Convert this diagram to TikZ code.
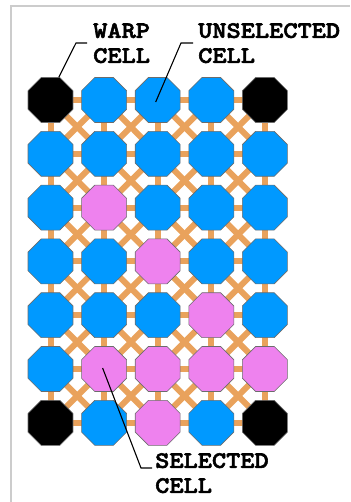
\documentclass[tikz,border=0pt]{standalone}
\usepackage{fontspec}
\newfontfamily\labfont{lmmonolt10-bold.otf}[FakeStretch=1.15, FakeBold=2.5]
\usetikzlibrary{shapes.geometric,backgrounds}
\definecolor{cellb}{RGB}{0,153,255}
\definecolor{cellp}{RGB}{238,130,238}
\definecolor{cellk}{RGB}{0,0,0}
\definecolor{linkcol}{RGB}{233,162,92}
\definecolor{framecol}{RGB}{204,204,204}
\tikzset{
  cell/.style={regular polygon, regular polygon sides=8, minimum size=48.7pt,
    inner sep=0pt, draw=gray!85!black, line width=0.6pt},
  linkline/.style={draw=linkcol, line width=6pt},
  leader/.style={draw=black, line width=1.1pt},
  lab/.style={inner sep=0pt, align=left, anchor=north west,
    font=\labfont\fontsize{23.5}{25}\selectfont},
  frameline/.style={draw=framecol, line width=1.6pt}
}
\begin{document}
\begin{tikzpicture}[x=1pt,y=-1pt]
\useasboundingbox (0,0) rectangle (350,502);
\draw[frameline] (11,502) -- (11,6) -- (350,6);
\foreach \cols [count=\r] in {{k,b,b,b,k},{b,b,b,b,b},{b,p,b,b,b},{b,b,p,b,b},{b,b,b,p,b},{b,p,p,p,p},{k,b,p,b,k}}{
  \foreach \t [count=\c] in \cols {
    \node[cell, fill=cell\t] (c-\r-\c) at ({50.5+53.6*(\c-1)},{100+53.8*(\r-1)}) {};
  }
}
\begin{scope}[on background layer]
  \foreach \r in {1,...,7}{
    \foreach \c in {1,...,4}{
      \pgfmathtruncatemacro\n{\c+1}
      \draw[linkline] (c-\r-\c.center) -- (c-\r-\n.center);
    }
  }
  \foreach \r in {1,...,6}{
    \foreach \c in {1,...,5}{
      \pgfmathtruncatemacro\m{\r+1}
      \draw[linkline] (c-\r-\c.center) -- (c-\m-\c.center);
    }
  }
  \foreach \r in {1,...,6}{
    \foreach \c in {1,...,4}{
      \pgfmathtruncatemacro\m{\r+1}
      \pgfmathtruncatemacro\n{\c+1}
      \draw[linkline] (c-\r-\c.center) -- (c-\m-\n.center);
      \draw[linkline] (c-\r-\n.center) -- (c-\m-\c.center);
    }
  }
\end{scope}
\node[lab] (warp) at (93,23) {WARP\\CELL};
\node[lab] (unsel) at (198,23) {UNSELECTED\\CELL};
\node[lab] (sel) at (155,453) {SELECTED\\CELL};
\coordinate (w1) at (76,43);
\coordinate (w2) at (87,43);
\coordinate (u1) at (181,43);
\coordinate (u2) at (193,43);
\coordinate (s1) at (141,468);
\coordinate (s2) at (152,468);
\draw[leader] (c-1-1.70) -- (w1) -- (w2);
\draw[leader] ([shift={(-2pt,-2pt)}]c-1-3.center) -- (u1) -- (u2);
\draw[leader] ([shift={(-1.5pt,1pt)}]c-6-2.center) -- (s1) -- (s2);
\end{tikzpicture}
\end{document}
